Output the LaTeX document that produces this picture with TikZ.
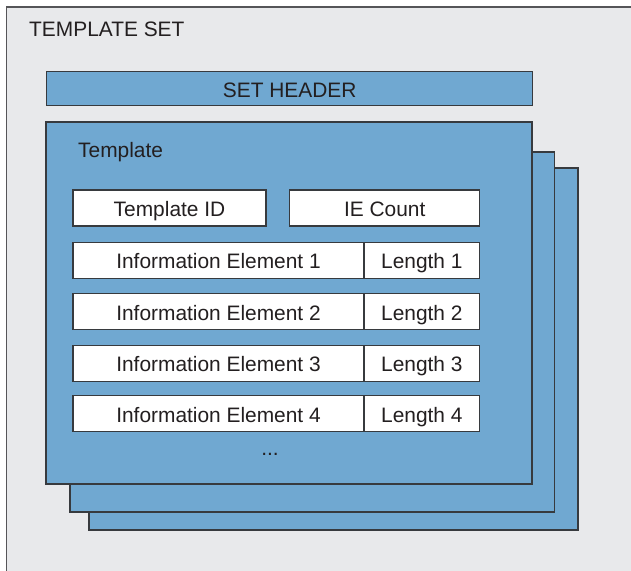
\documentclass[tikz,border=0pt]{standalone}
\usepackage{fontspec}
\setmainfont{Liberation Sans}
\definecolor{tblue}{RGB}{112,168,209}
\definecolor{tgray}{RGB}{232,233,235}
\definecolor{edge}{RGB}{55,58,62}
\definecolor{frameedge}{RGB}{85,85,88}
\definecolor{ink}{RGB}{35,31,32}
\tikzset{
  layer/.style={fill=tblue, draw=edge, line width=1.4pt},
  cell/.style={rectangle, fill=white, draw=edge, line width=1.4pt, inner sep=0pt,
    minimum height=36pt, anchor=north west, text=ink,
    text height=17pt, text depth=0pt,
    font=\fontsize{20.9}{24}\selectfont},
  lbl/.style={inner sep=0pt, text=ink, font=\fontsize{20.9}{24}\selectfont}
}
\begin{document}
\begin{tikzpicture}[x=1pt,y=-1pt]
\useasboundingbox (0,0) rectangle (631,570);
% outer template set frame
\fill[tgray] (6.5,7) rectangle (640,580);
\draw[frameedge, line width=1.5pt] (640,7) -- (6.5,7) -- (6.5,580);
\node[lbl, anchor=base west] (tset) at (29,36) {TEMPLATE SET};
% set header
\node[rectangle, fill=tblue, draw=edge, line width=1.4pt, minimum width=486pt,
  minimum height=34pt, anchor=north west, inner sep=0pt, text=ink,
  text height=17pt, text depth=0pt,
  font=\fontsize{20.9}{24}\selectfont] (hdr) at (46,71) {SET HEADER};
% stacked templates
\draw[layer] (89,168) rectangle (578,530);
\draw[layer] (70,152) rectangle (554.5,512);
\draw[layer] (46,122) rectangle (532,484);
\node[lbl, anchor=base west] (tpl) at (78,157.5) {Template};
% fields
\node[cell, minimum width=193pt] (tid) at (72.3,189.3) {Template ID};
\node[cell, minimum width=190pt] (iec) at (289,189.3) {IE Count};
\node[cell, minimum width=291pt] (ie1) at (72.3,241.5) {Information Element 1};
\node[cell, minimum width=115.7pt] (len1) at (363.3,241.5) {Length 1};
\node[cell, minimum width=291pt] (ie2) at (72.3,293) {Information Element 2};
\node[cell, minimum width=115.7pt] (len2) at (363.3,293) {Length 2};
\node[cell, minimum width=291pt] (ie3) at (72.3,344.5) {Information Element 3};
\node[cell, minimum width=115.7pt] (len3) at (363.3,344.5) {Length 3};
\node[cell, minimum width=291pt] (ie4) at (72.3,395) {Information Element 4};
\node[cell, minimum width=115.7pt] (len4) at (363.3,395) {Length 4};
\node[lbl, anchor=base] (dots) at (270,455) {...};
\end{tikzpicture}
\end{document}
